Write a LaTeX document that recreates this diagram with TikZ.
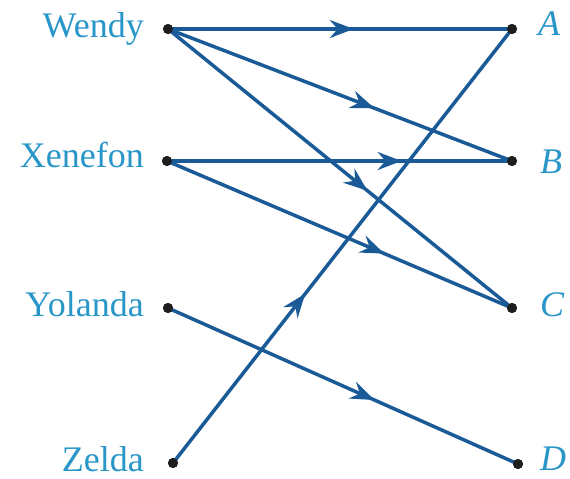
\documentclass[tikz,border=0pt]{standalone}
\usepackage{fontspec}
\setmainfont{Liberation Serif}
\usetikzlibrary{arrows.meta,decorations.markings}
\definecolor{labelblue}{RGB}{40,150,200}
\definecolor{edgeblue}{RGB}{26,90,150}
\definecolor{dotgray}{RGB}{30,30,30}
\tikzset{
  vtx/.style={circle,fill=dotgray,inner sep=0pt,minimum size=10pt},
  name label/.style={text=labelblue,font=\fontsize{36}{40}\selectfont,inner sep=0pt},
  letter label/.style={text=labelblue,font=\fontsize{36}{40}\selectfont\itshape,inner sep=0pt,anchor=base west},
  edge/.style={draw=edgeblue,line width=3.5pt,postaction={decorate},
    decoration={markings,mark=at position #1 with {\arrow{Stealth[length=24pt,width=18pt,inset=8pt]}}}},
}
\begin{document}
\begin{tikzpicture}[x=1pt,y=-1pt]
\useasboundingbox (0,0) rectangle (570,479);
% left column
\node[vtx] (w) at (168,29) {};
\node[vtx] (x) at (167,161) {};
\node[vtx] (y) at (168,308) {};
\node[vtx] (z) at (173,463) {};
% right column
\node[vtx] (a) at (512,29) {};
\node[vtx] (b) at (512,161) {};
\node[vtx] (c) at (512,308) {};
\node[vtx] (d) at (518,464) {};
% names
\node[name label,anchor=base east] (lw) at (144,37) {Wendy};
\node[name label,anchor=base east] (lx) at (144,167) {Xenefon};
\node[name label,anchor=base east] (ly) at (144,316) {Yolanda};
\node[name label,anchor=base east] (lz) at (144,471) {Zelda};
% letters
\node[letter label] (la) at (538,35) {A};
\node[letter label] (lb) at (540,173) {B};
\node[letter label] (lc) at (540,316) {C};
\node[letter label] (ld) at (540,470) {D};
% edges
\draw[edge=0.54] (w.center) -- (a.center);
\draw[edge=0.60] (w.center) -- (b.center);
\draw[edge=0.58] (w.center) -- (c.center);
\draw[edge=0.68] (x.center) -- (b.center);
\draw[edge=0.63] (x.center) -- (c.center);
\draw[edge=0.59] (y.center) -- (d.center);
\draw[edge=0.39] (z.center) -- (a.center);
% redraw dots on top
\foreach \v in {w,x,y,z,a,b,c,d} \fill[dotgray] (\v.center) circle (5pt);
\end{tikzpicture}
\end{document}
